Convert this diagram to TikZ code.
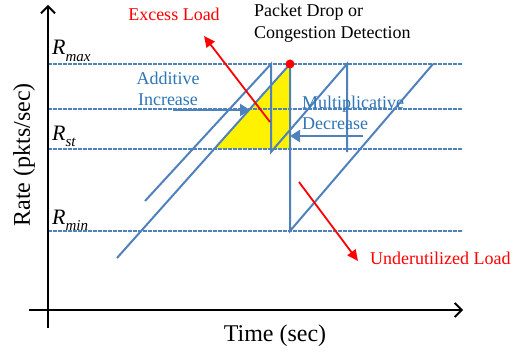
\documentclass[tikz,border=0pt]{standalone}
\usepackage{fontspec}
\setmainfont{Liberation Serif}
\usetikzlibrary{arrows.meta}
\definecolor{lineblue}{RGB}{79,129,189}
\definecolor{txtblue}{RGB}{46,117,182}
\newcommand{\rsub}[1]{\textit{R}\raisebox{-0.28em}{\fontsize{15}{15}\selectfont\textit{#1}}}
\begin{document}
\begin{tikzpicture}[x=1pt,y=-1pt,
  axis/.style={line width=1.8pt,-{Straight Barb[length=7pt,width=14pt,line width=1.8pt]}},
  level/.style={lineblue,line width=2pt,dash pattern=on 4pt off 1pt},
  saw/.style={lineblue,line width=2pt,line join=miter},
  redarrow/.style={red,line width=1.8pt,-{Triangle[length=11pt,width=10pt]}},
  bluearrow/.style={lineblue,line width=2.5pt,-{Triangle[length=10pt,width=12pt]}},
  lbl/.style={font=\fontsize{18}{21.5}\selectfont,inner sep=0pt},
  big/.style={font=\fontsize{24}{28}\selectfont,inner sep=0pt},
  rlbl/.style={font=\fontsize{22}{26}\selectfont,inner sep=0pt,anchor=base west}]
\useasboundingbox (0,0) rectangle (517,353);
% coordinates
\coordinate (ybot) at (48,328);
\coordinate (ytop) at (48,5);
\coordinate (xleft) at (29,310);
\coordinate (xright) at (463,310);
\coordinate (max0) at (48,64);   \coordinate (max1) at (462,64);
\coordinate (mid0) at (48,109);  \coordinate (mid1) at (462,109);
\coordinate (st0) at (48,149);   \coordinate (st1) at (462,149);
\coordinate (min0) at (48,231);  \coordinate (min1) at (462,231);
% yellow triangle
\coordinate (ya) at (214,149);
\coordinate (yb) at (290,149);
\coordinate (yc) at (290,64);
\fill[yellow] (ya) -- (yb) -- (yc) -- cycle;
% level lines
\draw[level] (max0) -- (max1);
\draw[level] (mid0) -- (mid1);
\draw[level] (st0) -- (st1);
\draw[level] (min0) -- (min1);
% sawtooth lines
\coordinate (a0) at (145,201);
\coordinate (a1) at (271,64);
\coordinate (a2) at (271,152);
\coordinate (a3) at (347,64);
\coordinate (a4) at (347,152);
\coordinate (b0) at (117,258);
\coordinate (b1) at (290,231);
\coordinate (b2) at (433,64);
\draw[saw] (a0) -- (a1) -- (a2) -- (a3) -- (a4);
\draw[saw] (b0) -- (yc) -- (b1) -- (b2);
% axes
\draw[axis] (ybot) -- (ytop);
\draw[axis] (xleft) -- (xright);
% labels
\node[rlbl] (rmax) at (52,55) {\rsub{max}};
\node[rlbl] (rst) at (52,140) {\rsub{st}};
\node[rlbl] (rmin) at (52,224) {\rsub{min}};
\node[big,rotate=90] (rate) at (24,155) {Rate (pkts/sec)};
\node[big] (time) at (275,336) {Time (sec)};
\node[lbl,text=red] (excess) at (174,14) {Excess Load};
\node[lbl,align=left,anchor=north west] (packet) at (254,4) {Packet Drop or\\Congestion Detection};
\node[lbl,text=txtblue,align=center] (additive) at (168,89) {Additive\\Increase};
\node[lbl,text=txtblue,align=left,anchor=west] (multi) at (302,113) {Multiplicative\\Decrease};
\node[lbl,text=red,anchor=west] (under) at (370,258) {Underutilized Load};
% arrows
\coordinate (ex0) at (270,122);
\coordinate (ex1) at (204,36);
\draw[redarrow] (ex0) -- (ex1);
\coordinate (un0) at (299,182);
\coordinate (un1) at (358,261);
\draw[redarrow] (un0) -- (un1);
\coordinate (ad0) at (173,110);
\coordinate (ad1) at (250,110);
\draw[bluearrow] (ad0) -- (ad1);
\coordinate (md0) at (363,136);
\coordinate (md1) at (290,136);
\draw[bluearrow] (md0) -- (md1);
% drop point
\node[circle,fill=red,minimum size=9pt,inner sep=0pt] (drop) at (yc) {};
\end{tikzpicture}
\end{document}
